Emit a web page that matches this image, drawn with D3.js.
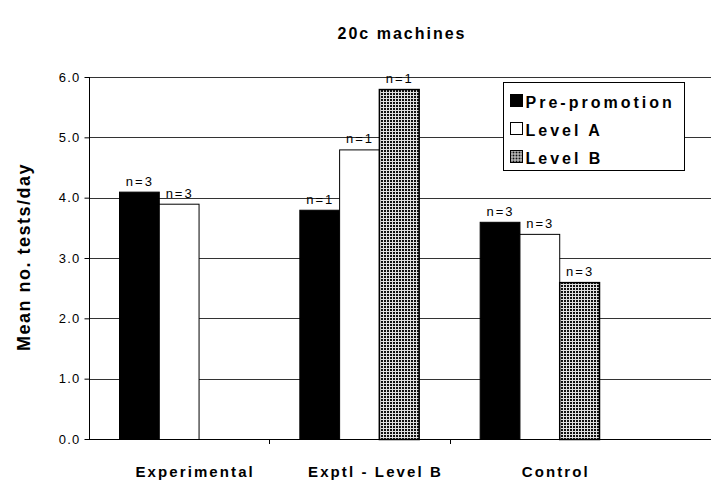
<!DOCTYPE html>
<html>
<head>
<meta charset="utf-8">
<script src="https://cdn.jsdelivr.net/npm/d3@7"></script>
<style>
  body { margin: 0; background: #fff; }
  svg { display: block; font-family: Arial, "Liberation Sans", sans-serif; }
</style>
</head>
<body>
<svg id="chart" width="711" height="484"></svg>
<script>
// Mean tests per day for 20c machines, by group and promotion phase
const categories = ["Experimental", "Exptl - Level B", "Control"];
const seriesNames = ["Pre-promotion", "Level A", "Level B"];
const prePromotion = [4.1, 3.8, 3.6];
const levelA = [3.9, 4.8, 3.4];
const levelB = [null, 5.8, 2.6];
const prePromotionN = ["n=3", "n=1", "n=3"];
const levelAN = ["n=3", "n=1", "n=3"];
const levelBN = [null, "n=1", "n=3"];
const yTicks = [0, 1, 2, 3, 4, 5, 6];

(function () {
const svg = d3.select("#chart");
const plotLeft = 89, plotBottom = 439, plotTop = 77, axisRight = 630, gridRight = 711;

const defs = svg.append("defs");
const pat = defs.append("pattern")
  .attr("id", "grid")
  .attr("width", 3).attr("height", 3)
  .attr("patternUnits", "userSpaceOnUse");
pat.append("rect").attr("width", 3).attr("height", 3).attr("fill", "#e0e0e0");
pat.append("rect").attr("width", 2).attr("height", 2).attr("fill", "#111");

const x = d3.scaleBand().domain(categories).range([plotLeft, axisRight]).paddingInner(0).paddingOuter(0);
const inner = d3.scaleBand().domain(seriesNames).range([30, x.bandwidth() - 31]);
const y = d3.scaleLinear().domain([0, 6]).range([plotBottom, plotTop]);

// horizontal gridlines
svg.append("g").selectAll("line").data(yTicks.filter(d => d > 0)).join("line")
  .attr("x1", plotLeft).attr("x2", gridRight)
  .attr("y1", d => Math.round(y(d)) + 0.5).attr("y2", d => Math.round(y(d)) + 0.5)
  .attr("stroke", "#333").attr("stroke-width", 1);

const fills = ["#000", "#fff", "url(#grid)"];
const series = [prePromotion, levelA, levelB];
const labels = [prePromotionN, levelAN, levelBN];

const bars = [];
series.forEach((vals, si) => {
  vals.forEach((v, ci) => {
    if (v == null) return;
    bars.push({ cat: categories[ci], s: seriesNames[si], si, v, label: labels[si][ci] });
  });
});

svg.append("g").selectAll("rect").data(bars).join("rect")
  .attr("x", d => x(d.cat) + inner(d.s) + 0.5)
  .attr("y", d => y(d.v) + 0.5)
  .attr("width", inner.bandwidth())
  .attr("height", d => plotBottom - y(d.v))
  .attr("fill", d => fills[d.si])
  .attr("stroke", "#000")
  .attr("stroke-width", d => d.si === 2 ? 1.5 : 1);

svg.append("g").selectAll("text").data(bars).join("text")
  .attr("x", d => x(d.cat) + inner(d.s) + inner.bandwidth() / 2 + 1)
  .attr("y", d => y(d.v) - 6)
  .attr("text-anchor", "middle")
  .attr("font-size", 13)
  .attr("letter-spacing", 2)
  .attr("fill", "#000")
  .text(d => d.label);

// y axis
const yAxis = d3.axisLeft(y).tickValues(yTicks).tickFormat(d3.format(".1f")).tickSize(5).tickPadding(4);
const gy = svg.append("g").attr("transform", `translate(${plotLeft + 0.5},0)`).call(yAxis);
gy.select(".domain").attr("stroke", "#000").attr("d", `M0,${plotTop}V${plotBottom}`);
gy.selectAll(".tick line").attr("stroke", "#000");
gy.selectAll(".tick text").attr("font-size", 13).attr("letter-spacing", 1.2).attr("fill", "#000")
  .attr("font-family", "Arial, 'Liberation Sans', sans-serif");

// x axis baseline and category ticks
svg.append("line").attr("x1", plotLeft - 4).attr("x2", gridRight)
  .attr("y1", plotBottom + 0.5).attr("y2", plotBottom + 0.5).attr("stroke", "#000");
svg.append("g").selectAll("line").data(categories.slice(1)).join("line")
  .attr("x1", d => Math.round(x(d)) + 0.5).attr("x2", d => Math.round(x(d)) + 0.5)
  .attr("y1", plotBottom).attr("y2", plotBottom + 5).attr("stroke", "#000");
svg.append("g").selectAll("text").data(categories).join("text")
  .attr("x", d => x(d) + x.bandwidth() / 2 + 16)
  .attr("y", 477)
  .attr("text-anchor", "middle")
  .attr("font-size", 15).attr("font-weight", "bold")
  .attr("letter-spacing", 2.1)
  .text(d => d);

// titles
svg.append("text").attr("x", 402).attr("y", 39).attr("text-anchor", "middle")
  .attr("font-size", 16).attr("font-weight", "bold").attr("letter-spacing", 2)
  .text("20c machines");
svg.append("text").attr("transform", "translate(30,257) rotate(-90)")
  .attr("text-anchor", "middle").attr("font-size", 18).attr("font-weight", "bold")
  .attr("letter-spacing", 1.5)
  .text("Mean no. tests/day");

// legend
const lg = svg.append("g").attr("transform", "translate(503.5,82.5)");
lg.append("rect").attr("width", 181).attr("height", 88).attr("fill", "#fff").attr("stroke", "#000");
seriesNames.forEach((name, i) => {
  const ly = 25 + i * 28;
  lg.append("rect").attr("x", 7).attr("y", ly - 13).attr("width", 12).attr("height", 12)
    .attr("fill", fills[i]).attr("stroke", "#000").attr("stroke-width", 1);
  lg.append("text").attr("x", 22).attr("y", ly).attr("font-size", 16).attr("font-weight", "bold")
    .attr("letter-spacing", 3).text(name);
});
})();
</script>
</body>
</html>
